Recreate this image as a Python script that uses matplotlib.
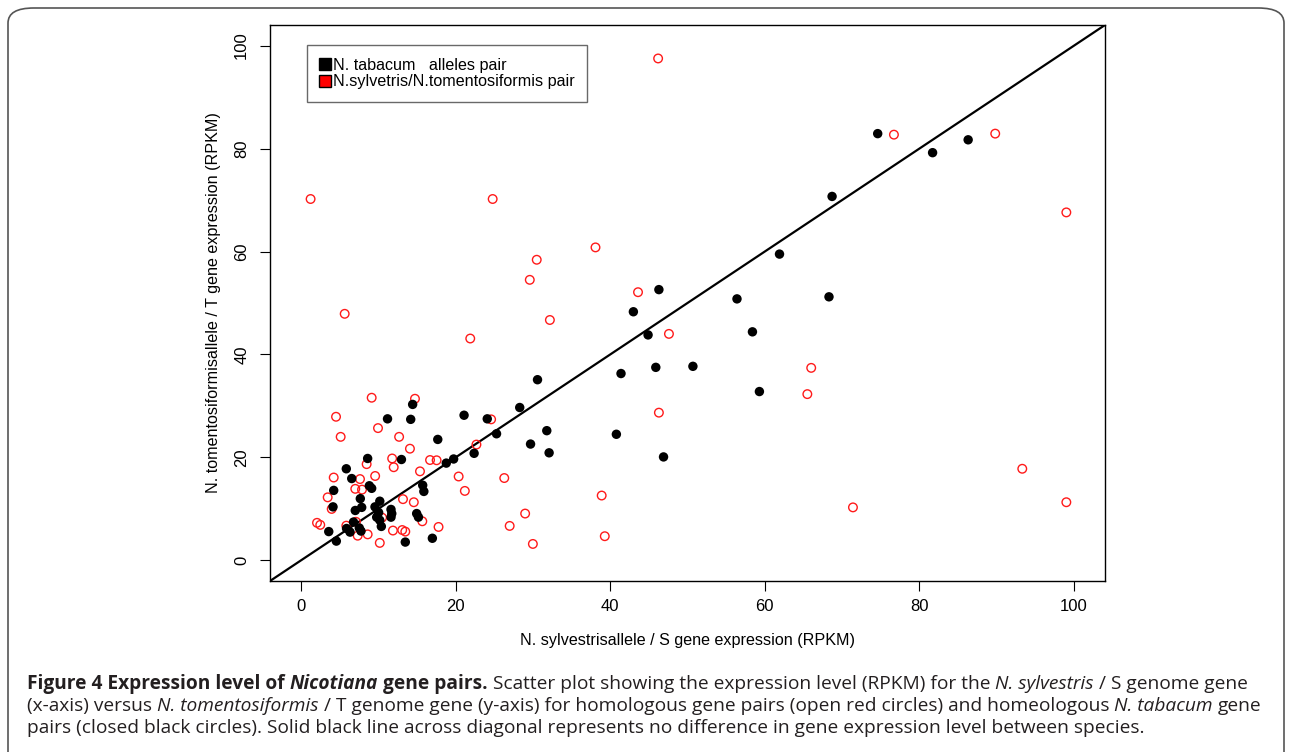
import numpy as np
import matplotlib
matplotlib.use("Agg")
import matplotlib.pyplot as plt
from matplotlib.lines import Line2D
from matplotlib.patches import FancyBboxPatch

# ── data (RPKM) ──────────────────────────────────────────────────
tabacum_x = [14.45, 11.2, 14.2, 21.1, 24.1, 25.3, 17.7, 22.4, 18.8, 19.75,
             13.0, 8.63, 5.87, 6.57, 4.24, 8.85, 9.15, 7.68, 10.2, 7.03,
             7.86, 4.15, 9.58, 10.05, 11.65, 11.75, 11.65, 15.75, 15.9, 14.97,
             15.2, 9.8, 10.2, 10.4, 6.8, 5.9, 6.35, 7.55, 7.77, 3.6,
             4.58, 13.5, 17.0, 28.3, 30.6, 31.8, 29.7, 32.1, 40.8, 46.9,
             41.4, 45.9, 50.7, 43.0, 44.9, 46.3, 56.4, 58.4, 59.3, 61.9,
             68.3, 68.7, 74.6, 81.7, 86.3]
tabacum_y = [30.3, 27.5, 27.4, 28.2, 27.5, 24.6, 23.5, 20.8, 18.9, 19.7,
             19.6, 19.8, 17.8, 15.9, 13.6, 14.5, 14.0, 12.0, 11.5, 9.7,
             10.3, 10.4, 10.4, 9.3, 9.9, 9.1, 8.4, 14.6, 13.4, 9.1,
             8.4, 8.4, 7.8, 6.6, 7.45, 6.2, 5.5, 6.3, 5.7, 5.6,
             3.75, 3.56, 4.3, 29.7, 35.1, 25.2, 22.6, 20.9, 24.5, 20.1,
             36.3, 37.5, 37.7, 48.3, 43.8, 52.6, 50.8, 44.4, 32.8, 59.5,
             51.2, 70.7, 82.9, 79.2, 81.7]

sylv_tom_x = [46.2, 1.25, 24.8, 38.1, 30.5, 29.6, 43.6, 5.66, 32.2, 21.9,
              47.6, 76.7, 89.8, 99.0, 66.0, 65.5, 93.3, 99.0, 71.4, 46.3,
              26.3, 38.9, 29.0, 27.0, 30.0, 39.3, 9.15, 14.75, 4.54, 5.14,
              9.97, 12.7, 14.1, 24.6, 22.7, 11.8, 8.5, 12.0, 16.7, 17.55,
              15.4, 20.4, 21.2, 4.24, 7.64, 9.6, 7.03, 7.9, 3.46, 3.98,
              13.2, 14.6, 10.5, 15.7, 17.8, 2.08, 2.5, 5.87, 7.12, 7.34,
              8.63, 10.2, 11.9, 13.1, 13.5]
sylv_tom_y = [97.5, 70.2, 70.2, 60.8, 58.4, 54.5, 52.1, 47.9, 46.7, 43.1,
              44.0, 82.7, 82.9, 67.6, 37.4, 32.3, 17.8, 11.3, 10.3, 28.7,
              16.0, 12.6, 9.1, 6.7, 3.2, 4.7, 31.6, 31.4, 27.9, 24.0,
              25.7, 24.0, 21.7, 27.4, 22.5, 19.8, 18.7, 18.1, 19.5, 19.45,
              17.3, 16.3, 13.5, 16.1, 15.8, 16.4, 13.9, 13.75, 12.25, 10.0,
              11.9, 11.3, 8.3, 7.6, 6.5, 7.3, 6.9, 6.75, 7.5, 4.8,
              5.06, 3.4, 5.8, 5.9, 5.6]

ticks = [0, 20, 40, 60, 80, 100]
legend_labels = ["N. tabacum   alleles pair", "N.sylvetris/N.tomentosiformis pair"]

caption_lines = [
    [("Figure 4 Expression level of ", "bold", "normal"), ("Nicotiana", "bold", "italic"),
     (" gene pairs.", "bold", "normal"),
     (" Scatter plot showing the expression level (RPKM) for the ", "normal", "normal"),
     ("N. sylvestris", "normal", "italic"), (" / S genome gene", "normal", "normal")],
    [("(x-axis) versus ", "normal", "normal"), ("N. tomentosiformis", "normal", "italic"),
     (" / T genome gene (y-axis) for homologous gene pairs (open red circles) and homeologous ",
      "normal", "normal"),
     ("N. tabacum", "normal", "italic"), (" gene", "normal", "normal")],
    [("pairs (closed black circles). Solid black line across diagonal represents no difference "
      "in gene expression level between species.", "normal", "normal")],
]

# ── figure ───────────────────────────────────────────────────────
W, H = 1290, 752
fig = plt.figure(figsize=(W / 100, H / 100), dpi=100)
plt.rcParams['font.family'] = ['Liberation Sans', 'DejaVu Sans']

frame = FancyBboxPatch((8 / W, 1 - 790 / H), 1276 / W, 782 / H,
                       boxstyle="round,pad=0,rounding_size=0.02",
                       transform=fig.transFigure, facecolor='none',
                       edgecolor='#555555', linewidth=1.2, clip_on=False)
fig.patches.append(frame)

ax = fig.add_axes([270 / W, 1 - 581 / H, 835 / W, 556 / H])
ax.set_xlim(-4, 104)
ax.set_ylim(-4, 104)

ax.plot([-4, 104], [-4, 104], color='black', linewidth=1.6, zorder=1)
ax.scatter(tabacum_x, tabacum_y, s=46, color='black', edgecolors='none', zorder=3)
ax.scatter(sylv_tom_x, sylv_tom_y, s=38, facecolors='none', edgecolors='#ff1a1a',
           linewidths=1.0, zorder=2)

ax.set_xticks(ticks)
ax.set_yticks(ticks)
ax.tick_params(direction='out', length=7, width=0.8, labelsize=12)
ax.tick_params(axis='x', pad=6)
ax.tick_params(axis='y', pad=8)
for lbl in ax.get_yticklabels():
    lbl.set_rotation(90)
    lbl.set_va('center')
for sp in ax.spines.values():
    sp.set_linewidth(1.0)

ax.set_xlabel("N. sylvestrisallele / S gene expression (RPKM)", fontsize=11.6, labelpad=14)
ax.set_ylabel("N. tomentosiformisallele / T gene expression (RPKM)", fontsize=11.6, labelpad=9.5)

handles = [Line2D([], [], marker='s', linestyle='none', markersize=8,
                  markerfacecolor='black', markeredgecolor='black'),
           Line2D([], [], marker='s', linestyle='none', markersize=8,
                  markerfacecolor='#ff0000', markeredgecolor='black')]
leg = ax.legend(handles, legend_labels, loc='upper left', bbox_to_anchor=(0.044, 0.964),
                fontsize=11.6, frameon=True, fancybox=False, handlelength=0.7,
                handletextpad=0.12, borderpad=0.78, labelspacing=0.1,
                borderaxespad=0)
leg.get_frame().set_edgecolor('#444444')
leg.get_frame().set_linewidth(1.0)

# ── caption, mixed bold / italic runs ────────────────────────────
renderer = fig.canvas.get_renderer()
cap_color = '#231f20'
cap_size = 13.8


def make_text(x, y, s, weight, style, **kw):
    return fig.text(x, y, s, fontweight=weight, fontstyle=style, fontsize=cap_size,
                    family='Open Sans', color=cap_color, **kw)


def text_width(s, weight, style):
    t = make_text(0, 0, s, weight, style)
    w = t.get_window_extent(renderer).width
    t.remove()
    return w


baselines = [689, 711, 733]
for runs, base in zip(caption_lines, baselines):
    x = 27.0
    for s, weight, style in runs:
        lead = len(s) - len(s.lstrip(' '))
        body = s.strip(' ')
        trail = len(s) - len(s.rstrip(' '))
        sp = text_width("a a", weight, style) - text_width("aa", weight, style)
        x += lead * sp
        t = make_text(x / W, 1 - base / H, body, weight, style, va='baseline', ha='left')
        x += t.get_window_extent(renderer).width + trail * sp

fig.savefig("out.png", dpi=100)
